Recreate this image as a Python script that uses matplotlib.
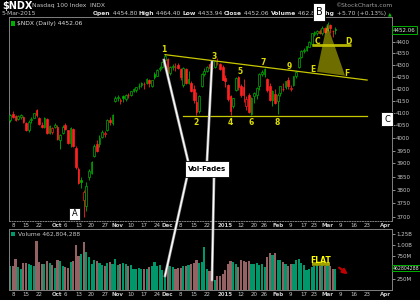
import numpy as np
import pandas as pd
import matplotlib
matplotlib.use('Agg')
import matplotlib.pyplot as plt
from matplotlib.patches import Rectangle, Polygon
from matplotlib.lines import Line2D
from matplotlib.ticker import FixedLocator, FixedFormatter, NullLocator

# ---- data ----
holidays = pd.to_datetime(['2014-11-27', '2014-12-25', '2015-01-01', '2015-01-19', '2015-02-16', '2015-04-03'])
days = pd.bdate_range('2014-09-05', '2015-04-10')
days = days[~days.isin(holidays)]

opens = [4070, 4095, 4088, 4075, 4082, 4085, 4060, 4030, 4070, 4080,
         4112, 4080, 4050, 4045, 4075, 4020, 4025, 4045, 4045, 3990,
         4020, 4050, 4030, 3980, 4035, 3960, 3878, 3835, 3760, 3740,
         3850, 3865, 3930, 3975, 3975, 4005, 4015, 4030, 4070, 4060,
         4150, 4160, 4150, 4168, 4158, 4175, 4175, 4192, 4195, 4210,
         4215, 4218, 4222, 4235, 4210, 4262, 4255, 4282, 4290, 4322,
         4325, 4265, 4290, 4292, 4298, 4282, 4215, 4282, 4225, 4225,
         4200, 4145, 4110, 4210, 4262, 4275, 4302, 4288, 4290, 4308,
         4305, 4290, 4245, 4215, 4168, 4130, 4195, 4248, 4212, 4205,
         4130, 4172, 4095, 4170, 4172, 4210, 4260, 4262, 4240, 4210,
         4155, 4178, 4148, 4180, 4200, 4208, 4238, 4200, 4215, 4252,
         4290, 4335, 4358, 4362, 4378, 4392, 4435, 4440, 4446, 4440,
         4460, 4450, 4475, 4445, 4454.80]
highs = [4095, 4108, 4092, 4090, 4095, 4088, 4062, 4070, 4085, 4100,
         4118, 4082, 4062, 4085, 4078, 4050, 4045, 4060, 4050, 4015,
         4050, 4058, 4032, 4045, 4040, 3968, 3885, 3850, 3800, 3830,
         3880, 3910, 3975, 3990, 4010, 4030, 4028, 4075, 4085, 4095,
         4170, 4172, 4162, 4172, 4178, 4180, 4192, 4202, 4208, 4225,
         4228, 4228, 4245, 4240, 4238, 4272, 4282, 4295, 4315, 4346,
         4330, 4295, 4302, 4310, 4308, 4288, 4290, 4288, 4275, 4232,
         4215, 4185, 4175, 4265, 4285, 4295, 4308, 4295, 4322, 4328,
         4310, 4300, 4258, 4220, 4172, 4162, 4250, 4252, 4218, 4242,
         4170, 4180, 4165, 4188, 4208, 4265, 4278, 4285, 4245, 4222,
         4195, 4198, 4180, 4212, 4222, 4232, 4248, 4215, 4255, 4275,
         4335, 4362, 4372, 4382, 4402, 4440, 4445, 4452, 4455, 4468,
         4465, 4485, 4478, 4452, 4464.40]
lows = [4065, 4080, 4068, 4070, 4075, 4060, 4028, 4025, 4060, 4078,
        4085, 4050, 4040, 4040, 4015, 4015, 4015, 4038, 3990, 3955,
        4015, 4030, 3975, 3965, 3965, 3880, 3820, 3805, 3700, 3720,
        3835, 3860, 3925, 3945, 3965, 4000, 4005, 4028, 4050, 4050,
        4145, 4150, 4135, 4145, 4150, 4160, 4170, 4185, 4188, 4198,
        4205, 4200, 4218, 4205, 4205, 4240, 4252, 4275, 4288, 4318,
        4250, 4258, 4278, 4275, 4282, 4238, 4205, 4218, 4220, 4188,
        4140, 4090, 4102, 4205, 4255, 4270, 4280, 4280, 4288, 4300,
        4280, 4235, 4205, 4150, 4090, 4120, 4190, 4195, 4165, 4145,
        4112, 4100, 4090, 4140, 4158, 4195, 4255, 4250, 4185, 4150,
        4128, 4135, 4095, 4170, 4190, 4200, 4200, 4190, 4210, 4245,
        4285, 4330, 4350, 4358, 4375, 4380, 4425, 4430, 4432, 4430,
        4440, 4445, 4440, 4420, 4433.94]
closes = [4092, 4085, 4072, 4088, 4090, 4065, 4032, 4065, 4075, 4098,
          4090, 4055, 4042, 4080, 4018, 4048, 4040, 4050, 3995, 4010,
          4045, 4035, 3978, 4040, 3968, 3885, 3825, 3830, 3790, 3815,
          3870, 3905, 3970, 3948, 4000, 4025, 4020, 4072, 4065, 4090,
          4160, 4165, 4155, 4160, 4175, 4172, 4190, 4200, 4205, 4212,
          4225, 4218, 4240, 4222, 4235, 4250, 4280, 4288, 4312, 4338,
          4262, 4292, 4295, 4290, 4288, 4250, 4285, 4222, 4240, 4190,
          4152, 4105, 4170, 4262, 4275, 4292, 4286, 4285, 4315, 4310,
          4283, 4237, 4230, 4158, 4108, 4160, 4245, 4208, 4175, 4172,
          4158, 4105, 4162, 4180, 4202, 4262, 4270, 4282, 4195, 4152,
          4192, 4140, 4175, 4210, 4198, 4230, 4212, 4202, 4252, 4272,
          4330, 4360, 4365, 4380, 4400, 4437, 4443, 4448, 4438, 4462,
          4443, 4480, 4458, 4446.36, 4452.06]
volumes = [533, 530, 685, 510, 460, 600, 600, 587, 549, 526,
           1100, 624, 587, 571, 640, 610, 549, 490, 680, 646,
           526, 511, 490, 624, 646, 1000, 750, 800, 1070, 850,
           735, 571, 680, 640, 610, 549, 526, 601, 624, 587,
           700, 549, 571, 601, 587, 526, 549, 474, 474, 496,
           474, 474, 474, 511, 526, 624, 526, 549, 436, 300,
           549, 526, 511, 474, 490, 496, 526, 526, 549, 571,
           601, 661, 601, 624, 950, 475, 420, 211, 226, 301,
           301, 362, 436, 587, 646, 624, 587, 511, 661, 640,
           624, 646, 587, 571, 601, 549, 587, 511, 740, 834,
           774, 834, 677, 661, 624, 587, 526, 571, 587, 661,
           699, 601, 549, 436, 474, 511, 526, 549, 526, 549,
           526, 549, 526, 474, 462.804288]  # millions

tick_dates = ['2014-09-08', '2014-09-15', '2014-09-22', '2014-10-01', '2014-10-06', '2014-10-13',
              '2014-10-20', '2014-10-27', '2014-11-03', '2014-11-10', '2014-11-17', '2014-11-24',
              '2014-12-01', '2014-12-08', '2014-12-15', '2014-12-22', '2015-01-02', '2015-01-12',
              '2015-01-20', '2015-01-26', '2015-02-02', '2015-02-09', '2015-02-17', '2015-02-23',
              '2015-03-02', '2015-03-09', '2015-03-16', '2015-03-23', '2015-04-01']
tick_labels = ['8', '15', '22', 'Oct', '6', '13', '20', '27', 'Nov', '10', '17', '24', 'Dec', '8',
               '15', '22', '2015', '12', '20', '26', 'Feb', '9', '17', '23', 'Mar', '9', '16', '23', 'Apr']
price_ticks = [3700, 3750, 3800, 3850, 3900, 3950, 4000, 4050, 4100, 4150, 4200, 4250, 4300, 4350, 4400]
vol_ticks = [250, 750, 1000, 1250]
vol_tick_labels = ['250M', '750M', '1.00B', '1.25B']

# ---- figure ----
W, H = 420, 300
fig = plt.figure(figsize=(W / 100, H / 100), dpi=100, facecolor='black')


def fx(x):
    return x / W


def fy(y):
    return 1 - y / H


GREEN = '#00b000'
RED = '#ff2020'
VGREEN = '#00976a'
VRED = '#946262'
GRID = '#808080'
TXT = '#c8c8c8'
YEL = '#dcdc00'

ax = fig.add_axes([fx(9), fy(221), 383 / W, 204 / H], facecolor='black')
axv = fig.add_axes([fx(9), fy(290), 383 / W, 61 / H], facecolor='black')

o = np.array(opens, float)
h = np.array(highs, float)
l = np.array(lows, float)
c = np.array(closes, float)
v = np.array(volumes, float)
x = np.arange(len(c))
prev = np.r_[o[0], c[:-1]]
cols = np.where(c >= prev, GREEN, RED)

# candles
ax.vlines(x, l, h, colors=cols, lw=0.6, zorder=2)
for i in range(len(c)):
    lo, hi = min(o[i], c[i]), max(o[i], c[i])
    filled = c[i] < o[i]
    ax.add_patch(Rectangle((i - 0.33, lo), 0.66, max(hi - lo, 1.0),
                           facecolor=cols[i] if filled else 'black',
                           edgecolor=cols[i], lw=0.5, zorder=3))

ax.set_yscale('log')
ax.set_xlim(-0.5, 145.6)
ax.set_ylim(3684, 4509)
ax.yaxis.set_major_locator(FixedLocator(price_ticks))
ax.yaxis.set_major_formatter(FixedFormatter([str(t) for t in price_ticks]))
ax.yaxis.set_minor_locator(NullLocator())
ax.yaxis.tick_right()

tick_pos = [days.get_loc(pd.Timestamp(d)) for d in tick_dates]
bold = {'Oct', 'Nov', 'Dec', '2015', 'Feb', 'Mar', 'Apr'}
for a in (ax, axv):
    a.set_xticks(tick_pos)
    a.set_xticklabels(tick_labels)
    for t in a.get_xticklabels():
        if t.get_text() in bold:
            t.set_fontweight('bold')
            t.set_color('#e8e8e8')
    a.tick_params(axis='x', length=0, labelsize=4, colors=TXT, pad=1.2)
    a.tick_params(axis='y', which='both', length=2, width=0.5, colors=TXT,
                  labelsize=4, pad=1, right=True, left=False)
    for s in a.spines.values():
        s.set_color(GRID)
        s.set_linewidth(0.7)
ax.spines['bottom'].set_linestyle(':')

# volume
vcols = np.where(c >= prev, VGREEN, VRED)
axv.bar(x, v * 1e6, width=0.82, color=vcols, zorder=2)
axv.set_xlim(-0.5, 145.6)
axv.set_ylim(0, 1.36e9)
axv.yaxis.tick_right()
axv.set_yticks([t * 1e6 for t in vol_ticks])
axv.set_yticklabels(vol_tick_labels)

# ---- chart annotations ----
ax.plot([59, 136.1], [4344, 4236], color='#c8c800', lw=0.9, zorder=4)
ax.plot([65.9, 136.1], [4088, 4088], color='#c8c800', lw=0.9, zorder=4)
ax.plot([115.1, 130], [4386, 4386], color='#b4b400', lw=2.0, zorder=4, solid_capstyle='butt')
ax.add_patch(Polygon([(120.8, 4478), (117, 4271), (127.7, 4254)], closed=True,
                     facecolor='#c8c800', alpha=0.55, edgecolor='none', zorder=5))
for lab, xi, yi in [('1', 58.6, 4364), ('2', 70.8, 4060), ('3', 77.7, 4338), ('4', 83.8, 4060),
                    ('5', 87.6, 4274), ('6', 91.8, 4060), ('7', 96.4, 4312), ('8', 101.8, 4060),
                    ('9', 106.3, 4295), ('C', 117.2, 4399), ('D', 129.0, 4401),
                    ('E', 115.5, 4280), ('F', 128.5, 4262)]:
    ax.text(xi, yi, lab, color=YEL, fontsize=5.5, fontweight='bold',
            ha='center', va='center', zorder=6)

axv.plot([115.1, 122], [571e6, 571e6], color='#a0a000', lw=2.6, zorder=4, solid_capstyle='butt')
axv.text(118.5, 661e6, 'FLAT', color='#ffff00', fontsize=5.5, fontweight='bold',
         ha='center', va='center', zorder=6)
axv.annotate('', xy=(fx(350), fy(276)), xytext=(fx(337), fy(266)), xycoords='figure fraction',
             arrowprops=dict(arrowstyle='-|>', color='#c00000', lw=1.6, mutation_scale=7))

# white "Vol-Fades" pointer lines
for x0, y0, x1, y1 in [(164, 60, 188, 161), (212, 62, 207, 161),
                       (187, 177, 165, 276), (214, 177, 212, 280)]:
    fig.add_artist(Line2D([fx(x0), fx(x1)], [fy(y0), fy(y1)], transform=fig.transFigure,
                          color='#9a9a9a', lw=2.0, zorder=7))
    fig.add_artist(Line2D([fx(x0), fx(x1)], [fy(y0), fy(y1)], transform=fig.transFigure,
                          color='white', lw=1.0, zorder=7))


def label_box(x0, y0, x1, y1, text, size, weight='normal'):
    fig.add_artist(Rectangle((fx(x0), fy(y1)), (x1 - x0) / W, (y1 - y0) / H,
                             transform=fig.transFigure, facecolor='white',
                             edgecolor='black', lw=0.6, zorder=8))
    fig.text(fx((x0 + x1) / 2), fy((y0 + y1) / 2), text, color='black', fontsize=size,
             fontweight=weight, ha='center', va='center', zorder=9)


label_box(69, 208, 80, 220, 'A', 6)
label_box(313, 3, 325, 21, 'B', 7)
label_box(381, 112, 393, 126, 'C', 6)
label_box(185, 161, 229, 177, 'Vol-Fades', 5, 'bold')

# ---- header ----
fig.text(fx(2), fy(6), '$NDX', color='white', fontsize=7, fontweight='bold', va='center')
fig.text(fx(32), fy(6), 'Nasdaq 100 Index  INDX', color=TXT, fontsize=4.3, va='center')
fig.text(fx(2), fy(13.5), '5-Mar-2015', color=TXT, fontsize=4.3, va='center')
fig.text(fx(392), fy(5.5), '\u00a9StockCharts.com', color='#a0a0a0', fontsize=4.3,
         ha='right', va='center')

pieces = [('Open', True), (' 4454.80 ', False), ('High', True), (' 4464.40 ', False),
          ('Low', True), (' 4433.94 ', False), ('Close', True), (' 4452.06 ', False),
          ('Volume', True), (' 462.8M ', False), ('Chg', True), (' +5.70 (+0.13%) ', False)]
renderer = fig.canvas.get_renderer()
xpos = fx(93)
for txt, b in pieces:
    t = fig.text(xpos, fy(13.5), txt, color='#e0e0e0' if b else TXT, fontsize=4.3,
                 fontweight='bold' if b else 'normal', va='center')
    bb = t.get_window_extent(renderer=renderer)
    xpos += bb.width / W
fig.text(xpos, fy(13.5), '\u25b2', color='#00c000', fontsize=3.5, va='center')

# legends
fig.add_artist(Rectangle((fx(11), fy(26)), 4 / W, 5 / H, transform=fig.transFigure,
                         facecolor='#00b000', edgecolor='none'))
fig.text(fx(17), fy(24), '$NDX (Daily) 4452.06', color='#e0e0e0', fontsize=4.3, va='center')
fig.add_artist(Rectangle((fx(11), fy(236)), 4 / W, 4 / H, transform=fig.transFigure,
                         facecolor=VGREEN, edgecolor='none'))
fig.text(fx(18), fy(234), 'Volume 462,804,288', color=TXT, fontsize=4.3, va='center')

# last value tags on the right axis
fig.text(fx(393), fy(30), '4452.06', color='#d8f0d8', fontsize=4, va='center', zorder=9,
         bbox=dict(boxstyle='square,pad=0.25', facecolor='black', edgecolor='#00b000', lw=0.7))
fig.text(fx(393), fy(268), '462804288', color='#d8f0d8', fontsize=3.3, va='center', zorder=9,
         bbox=dict(boxstyle='square,pad=0.2', facecolor='black', edgecolor='#00b000', lw=0.7))

fig.savefig('out.png', dpi=100, facecolor='black')
